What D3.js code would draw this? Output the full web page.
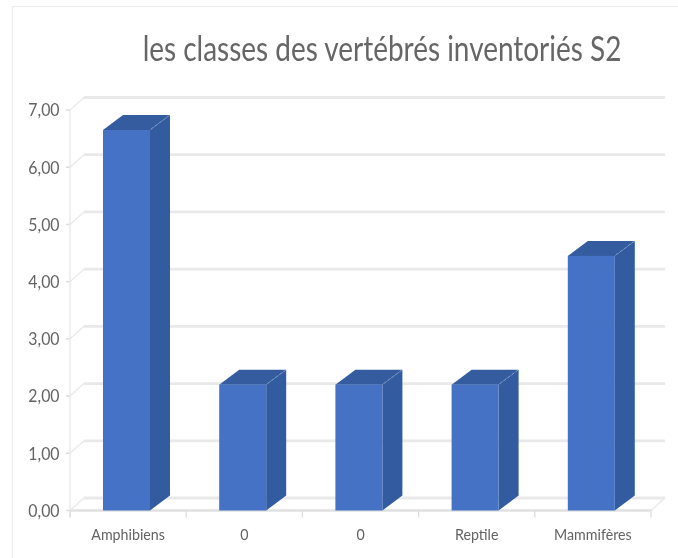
<!DOCTYPE html>
<html><head><meta charset="utf-8">
<script src="https://cdn.jsdelivr.net/npm/d3@7"></script>
<style>html,body{margin:0;background:#fff}svg{display:block}</style></head>
<body><svg id="c" width="678" height="558"></svg>
<script>
const titleText = "les classes des vertébrés inventoriés S2";
const categories = ["Amphibiens", "0", "0", "Reptile", "Mammifères"];
const values = [6.65, 2.2, 2.2, 2.2, 4.45];
const yTicks = [0, 1, 2, 3, 4, 5, 6, 7];

const face = "Lato,'Open Sans',sans-serif";
const svg = d3.select("#c");
const defs = svg.append("defs");
defs.append("filter").attr("id", "soft").append("feGaussianBlur").attr("stdDeviation", 0.5);
const g = svg.append("g").attr("filter", "url(#soft)");

const y = d3.scaleLinear().domain([0, 7]).range([510.5, 110]);
const x = d3.scaleBand().domain(d3.range(categories.length)).range([70, 651]);
const wall = { dx: 14, dy: -12.5 };
const depth = { dx: 20, dy: -15 };
const barW = 47, barOff = 33;
const grid = "#e9e9e9";

// squeeze a label horizontally about its anchor, as the reference text is narrow and tall
function squeeze(sel, px, py, factor) {
  sel.attr("x", 0).attr("y", 0).attr("transform", `translate(${px},${py}) scale(${factor},1)`);
  return sel;
}

g.append("path").attr("d", "M12.5,558V6.5H678").attr("fill", "none").attr("stroke", "#ececec").attr("stroke-width", 1.2);

const title = g.append("text").attr("text-anchor", "middle")
  .attr("font-family", face).attr("font-size", 34).attr("fill", "#666666").text(titleText);
squeeze(title, 382, 61, 479 / title.node().getComputedTextLength());

yTicks.forEach(t => {
  g.append("line").attr("x1", 70 + wall.dx).attr("x2", 651 + wall.dx)
    .attr("y1", y(t) + wall.dy).attr("y2", y(t) + wall.dy)
    .attr("stroke", grid).attr("stroke-width", 2.8);
  g.append("line").attr("x1", 70).attr("x2", 70 + wall.dx)
    .attr("y1", y(t)).attr("y2", y(t) + wall.dy)
    .attr("stroke", grid).attr("stroke-width", 1.3);
  g.append("line").attr("x1", 66).attr("x2", 70)
    .attr("y1", y(t)).attr("y2", y(t)).attr("stroke", "#dcdcdc").attr("stroke-width", 1.5);
  const lab = g.append("text").attr("dy", "0.35em")
    .attr("text-anchor", "end").attr("font-family", face).attr("font-size", 18)
    .attr("fill", "#636363").text(t.toFixed(2).replace(".", ","));
  squeeze(lab, 59.5, y(t), 0.88);
});

g.append("line").attr("x1", 70).attr("x2", 70).attr("y1", y(7)).attr("y2", y(0) + 7)
  .attr("stroke", grid).attr("stroke-width", 1.4);
g.append("line").attr("x1", 70).attr("x2", 651).attr("y1", y(0)).attr("y2", y(0))
  .attr("stroke", "#e0e0e0").attr("stroke-width", 2.4);
g.append("line").attr("x1", 651).attr("x2", 651 + wall.dx).attr("y1", y(0)).attr("y2", y(0) + wall.dy)
  .attr("stroke", grid).attr("stroke-width", 1.3);
d3.range(categories.length + 1).forEach(i => {
  const px = i < categories.length ? x(i) : 651;
  g.append("line").attr("x1", px).attr("x2", px).attr("y1", y(0)).attr("y2", y(0) + 7)
    .attr("stroke", "#dcdcdc").attr("stroke-width", 1.3);
});

values.forEach((v, i) => {
  const l = x(i) + barOff, r = l + barW, t = y(v), b = y(0);
  g.append("polygon").attr("fill", "#335c9f")
    .attr("points", [[r, t], [r + depth.dx, t + depth.dy], [r + depth.dx, b + depth.dy], [r, b]].join(" "));
  g.append("polygon").attr("fill", "#345c9e")
    .attr("points", [[l, t], [l + depth.dx, t + depth.dy], [r + depth.dx, t + depth.dy], [r, t]].join(" "));
  g.append("rect").attr("x", l).attr("y", t).attr("width", barW).attr("height", b - t).attr("fill", "#4472c4");
  g.append("line").attr("x1", r + 1).attr("y1", t - 1).attr("x2", r + depth.dx).attr("y2", t + depth.dy)
    .attr("stroke", "#8ea6cf").attr("stroke-width", 0.7).attr("stroke-dasharray", "3 2");
  const lab = g.append("text").attr("text-anchor", "middle")
    .attr("font-family", face).attr("font-size", 15).attr("fill", "#636363").text(categories[i]);
  squeeze(lab, x(i) + x.bandwidth() / 2, 540, 0.95);
});
</script></body></html>
